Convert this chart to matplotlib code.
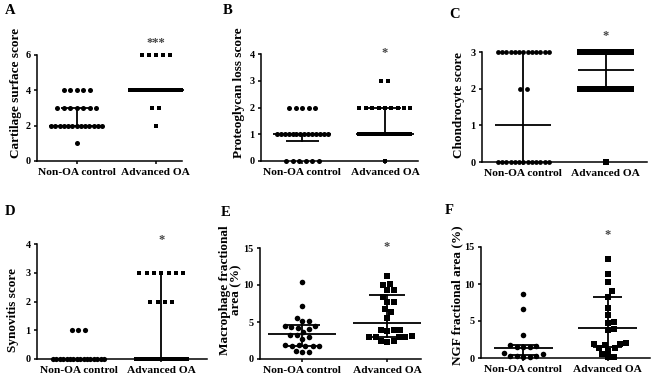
import numpy as np
import matplotlib.pyplot as plt

plt.rcParams['font.family'] = ['Liberation Serif', 'DejaVu Serif']
plt.rcParams['font.weight'] = 'bold'

groups = ['Non-OA control', 'Advanced OA']

# discrete score panels: row values and how many samples sit on each row
a_ctrl_vals, a_ctrl_n = [4, 3, 2, 1], [5, 7, 13, 1]
a_oa_vals, a_oa_n = [6, 4, 3, 2], [5, 20, 2, 1]
b_ctrl_vals, b_ctrl_n = [2, 1, 0], [5, 14, 6]
b_oa_vals, b_oa_n = [3, 2, 1, 0], [2, 9, 20, 1]
c_ctrl_vals, c_ctrl_n = [3, 2, 0], [13, 2, 13]
c_oa_vals, c_oa_n = [3, 2, 0], [16, 16, 1]
d_ctrl_vals, d_ctrl_n = [1, 0], [3, 16]
d_oa_vals, d_oa_n = [3, 2, 0], [7, 4, 16]

# continuous panels (%)
e_ctrl = [10.4, 7.1, 5.6, 5.1, 5.1, 4.4, 4.3, 4.2, 4.0, 4.4, 3.6, 3.3, 3.2,
          3.0, 2.7, 1.9, 1.8, 1.8, 1.7, 1.8, 1.9, 1.0, 1.0, 1.1]
e_oa = [11.2, 10.2, 10.0, 9.3, 9.3, 8.4, 7.7, 7.7, 6.7, 6.3, 5.6, 3.9, 3.9,
        3.8, 3.9, 3.0, 3.0, 3.1, 3.0, 3.0, 2.4, 2.3, 2.4]
f_ctrl = [8.7, 6.6, 3.1, 1.7, 1.5, 1.5, 1.5, 1.6, 0.7, 0.6, 0.3, 0.2, 0.3,
          0.2, 0.3]
f_oa = [13.4, 11.4, 10.3, 9.0, 8.3, 6.8, 5.8, 4.7, 4.9, 3.8, 3.9, 2.0, 1.9,
        1.9, 1.8, 1.4, 1.0, 1.3, 0.6, 0.2, 0.1]

# median and interquartile range
a_med, a_q1, a_q3 = [2, 4], [2, 4], [3, 4]
b_med, b_q1, b_q3 = [1, 1], [0.75, 1], [1, 2]
c_med, c_q1, c_q3 = [1, 2.5], [0, 2], [3, 3]
d_med, d_q1, d_q3 = [0, 0], [0, 0], [0, 3]
e_med, e_q1, e_q3 = [3.4, 4.8], [1.7, 3.0], [4.6, 8.6]
f_med, f_q1, f_q3 = [1.4, 4.0], [0.4, 1.5], [1.8, 8.3]

W, H = 663, 389
fig = plt.figure(figsize=(W / 100, H / 100), dpi=100)


def make_ax(l, r, t, b):
    ax = fig.add_axes([l / W, 1 - b / H, (r - l) / W, (b - t) / H])
    for s in ['top', 'right']:
        ax.spines[s].set_visible(False)
    for s in ['left', 'bottom']:
        ax.spines[s].set_linewidth(1.1)
    ax.tick_params(direction='out', length=2.5, width=1.1, labelsize=7.3, pad=2)
    ax.tick_params(axis='x', labelsize=8.2, pad=2.5)
    ax.set_xticks([0, 1])
    ax.set_xticklabels(groups)
    return ax, r - l, b - t


def rows(ax, x0, vals, counts, ppu, marker, s, step_px=6.5):
    for v, n in zip(vals, counts):
        if n == 1:
            offs = np.array([0.0])
        else:
            step = min(step_px, 51.0 / (n - 1))
            offs = (np.arange(n) - (n - 1) / 2) * step / ppu
        ax.scatter(x0 + offs, np.full(n, v), marker=marker, s=s, c='k',
                   linewidths=0, clip_on=False, zorder=2)


def swarm(ax, x0, vals, ppu_x, ppu_y, marker, s, diam=6.5):
    vals = np.asarray(vals, float)
    placed = []
    xs = np.zeros(len(vals))
    for i in np.argsort(vals):
        y = vals[i] * ppu_y
        for k in range(200):
            dx = 0.0 if k == 0 else ((k + 1) // 2) * 0.5 * (1 if k % 2 else -1)
            if all((dx - px) ** 2 + (y - py) ** 2 >= diam ** 2 for px, py in placed):
                break
        placed.append((dx, y))
        xs[i] = dx / ppu_x
    ax.scatter(x0 + xs, vals, marker=marker, s=s, c='k', linewidths=0,
               clip_on=False, zorder=2)


def summary(ax, med, q1, q3, mw=0.35, cw=0.2, lw=1.3):
    for i in range(2):
        if mw > 0:
            ax.plot([i - mw, i + mw], [med[i]] * 2, c='k', lw=lw, zorder=3,
                    solid_capstyle='butt', clip_on=False)
        if q3[i] > q1[i]:
            ax.plot([i, i], [q1[i], q3[i]], c='k', lw=lw, zorder=3, clip_on=False)
            if cw > 0:
                for q in (q1[i], q3[i]):
                    ax.plot([i - cw, i + cw], [q, q], c='k', lw=lw, zorder=3,
                            solid_capstyle='butt', clip_on=False)


panels = [
    # letter, box (l, r, t, b), xmax, ylim, yticks, label, label xy, star y, star text
    ('A', (37, 182, 55, 161), 1.33, 6, [0, 2, 4, 6], 'Cartilage surface score', (16, 93), 6.7, '***'),
    ('B', (261, 418, 54, 161), 1.4, 4, [0, 1, 2, 3, 4], 'Proteoglycan loss score', (239, 93), 4.05, '*'),
    ('C', (482, 647, 52, 162), 1.5, 3, [0, 1, 2, 3], 'Chondrocyte score', (459, 105), 3.45, '*'),
    ('D', (37, 207, 244, 359), 1.55, 4, [0, 1, 2, 3, 4], 'Synovitis score', (13, 310), 4.15, '*'),
    ('E', (260, 421, 248, 359), 1.4, 15, [0, 5, 10, 15], 'Macrophage fractional\narea (%)', (231, 290), 15.1, '*'),
    ('F', (481, 650, 247, 358), 1.5, 15, [0, 5, 10, 15], 'NGF fractional area (%)', (457, 295), 16.6, '*'),
]
letter_xy = {'A': (10, 11), 'B': (228, 11), 'C': (455, 14),
             'D': (10, 212), 'E': (226, 213), 'F': (449, 211)}

for letter, box, xmax, ytop, yt, label, lxy, sy, star in panels:
    ax, wpx, hpx = make_ax(*box)
    ax.set_xlim(-0.5, xmax)
    ax.set_ylim(0, ytop)
    ax.set_yticks(yt)
    ppu_x = wpx / (xmax + 0.5)
    ppu_y = hpx / ytop
    if letter == 'A':
        rows(ax, 0, a_ctrl_vals, a_ctrl_n, ppu_x, 'o', 13)
        rows(ax, 1, a_oa_vals, a_oa_n, ppu_x, 's', 11, 7)
        summary(ax, a_med, a_q1, a_q3)
    elif letter == 'B':
        rows(ax, 0, b_ctrl_vals, b_ctrl_n, ppu_x, 'o', 13)
        rows(ax, 1, b_oa_vals, b_oa_n, ppu_x, 's', 11, 7)
        summary(ax, b_med, b_q1, b_q3)
    elif letter == 'C':
        rows(ax, 0, c_ctrl_vals, c_ctrl_n, ppu_x, 'o', 12)
        rows(ax, 1, c_oa_vals, c_oa_n, ppu_x, 's', 16, 7)
        summary(ax, c_med, c_q1, c_q3, mw=0.34, cw=0.0)
    elif letter == 'D':
        rows(ax, 0, d_ctrl_vals, d_ctrl_n, ppu_x, 'o', 14)
        rows(ax, 1, d_oa_vals, d_oa_n, ppu_x, 's', 12, 7.3)
        summary(ax, d_med, d_q1, d_q3, mw=0.0, cw=0.0)
    elif letter == 'E':
        swarm(ax, 0, e_ctrl, ppu_x, ppu_y, 'o', 16)
        swarm(ax, 1, e_oa, ppu_x, ppu_y, 's', 15)
        summary(ax, e_med, e_q1, e_q3, mw=0.4, cw=0.21)
    else:
        swarm(ax, 0, f_ctrl, ppu_x, ppu_y, 'o', 16)
        swarm(ax, 1, f_oa, ppu_x, ppu_y, 's', 15)
        summary(ax, f_med, f_q1, f_q3, mw=0.35, cw=0.17)
    ax.text(1, sy, star, ha='center', va='center', fontsize=9, color='#444',
            clip_on=False)
    fig.text(lxy[0] / W, 1 - lxy[1] / H, label, rotation=90, ha='center',
             va='center', fontsize=9.5, multialignment='center', linespacing=0.95)
    lx, ly = letter_xy[letter]
    fig.text(lx / W, 1 - ly / H, letter, ha='center', va='center', fontsize=10.5)

fig.savefig('out.png', dpi=100)
